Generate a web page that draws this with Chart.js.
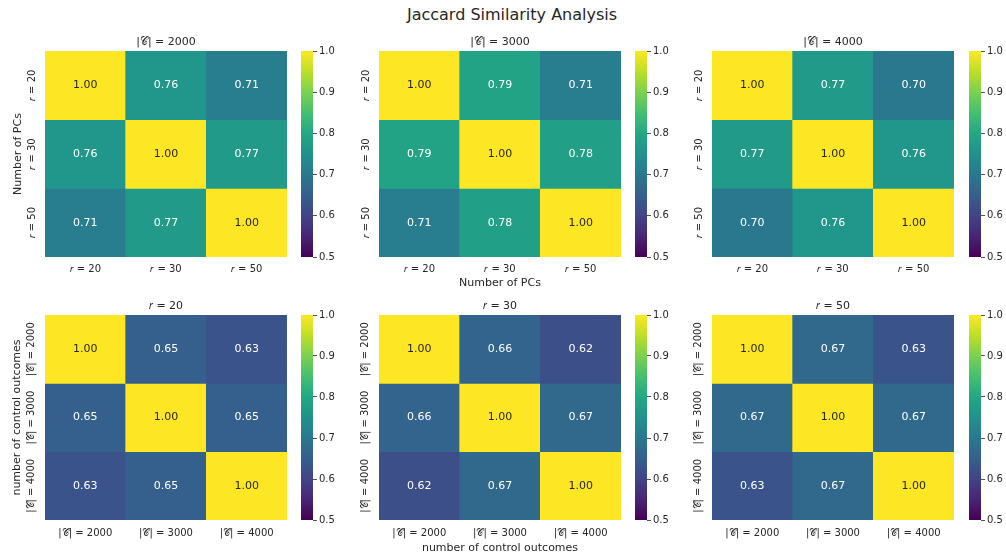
<!DOCTYPE html>
<html><head><meta charset="utf-8">
<script src="https://cdn.jsdelivr.net/npm/chart.js@4.4.0/dist/chart.umd.min.js"></script>
<style>
html,body{margin:0;padding:0;background:#fff;}
body{width:1006px;height:558px;position:relative;overflow:hidden;font-family:'DejaVu Sans',sans-serif;}
canvas{position:absolute;}
#sup{position:absolute;left:0;width:1024px;top:6px;line-height:18px;text-align:center;font-size:16px;color:#262626;}
</style></head><body>
<div id="sup">Jaccard Similarity Analysis</div>
<script>
// ---- data ----
const pcLabels = ['𝑟 = 20', '𝑟 = 30', '𝑟 = 50'];
const cLabels = ['|𝒞| = 2000', '|𝒞| = 3000', '|𝒞| = 4000'];
const topTitles = ['|𝒞| = 2000', '|𝒞| = 3000', '|𝒞| = 4000'];
const bottomTitles = ['𝑟 = 20', '𝑟 = 30', '𝑟 = 50'];
const pcAxisTitle = 'Number of PCs';
const cAxisTitle = 'number of control outcomes';
const simC2000 = [[1.00, 0.76, 0.71], [0.76, 1.00, 0.77], [0.71, 0.77, 1.00]];
const simC3000 = [[1.00, 0.79, 0.71], [0.79, 1.00, 0.78], [0.71, 0.78, 1.00]];
const simC4000 = [[1.00, 0.77, 0.70], [0.77, 1.00, 0.76], [0.70, 0.76, 1.00]];
const simR20 = [[1.00, 0.65, 0.63], [0.65, 1.00, 0.65], [0.63, 0.65, 1.00]];
const simR30 = [[1.00, 0.66, 0.62], [0.66, 1.00, 0.67], [0.62, 0.67, 1.00]];
const simR50 = [[1.00, 0.67, 0.63], [0.67, 1.00, 0.67], [0.63, 0.67, 1.00]];
const colorMin = 0.5, colorMax = 1.0, colorStep = 0.1;

// ---- colormap ----
const VIR = ['#440154','#482475','#414487','#355f8d','#2a788e','#21918c','#22a884','#44bf70','#7ad151','#bddf26','#fde725'];
function hex(h){return [1,3,5].map(k=>parseInt(h.substr(k,2),16));}
function viridis(v){
  let t = (v - colorMin) / (colorMax - colorMin);
  t = Math.max(0, Math.min(1, t));
  const p = t * 10, i = Math.min(9, Math.floor(p)), f = p - i;
  const a = hex(VIR[i]), b = hex(VIR[i+1]);
  const c = a.map((x,k)=>Math.round(x + (b[k]-x)*f));
  return `rgb(${c[0]},${c[1]},${c[2]})`;
}

const TXT = '#262626';
const FONT = '"DejaVu Sans", sans-serif';

const heatLabels = {
  id: 'heatLabels',
  afterDatasetsDraw(chart, args, o) {
    const ctx = chart.ctx;
    const {left, top, bottom} = chart.chartArea;
    ctx.save();
    ctx.textAlign = 'center'; ctx.textBaseline = 'middle';
    ctx.font = '11px ' + FONT;
    chart.data.datasets.forEach((ds, i) => {
      chart.getDatasetMeta(i).data.forEach((el, j) => {
        const v = ds.data[j].v;
        ctx.fillStyle = v > 0.9 ? TXT : '#ffffff';
        ctx.fillText(v.toFixed(2), el.x, (el.y + el.base) / 2);
      });
    });
    ctx.fillStyle = TXT;
    ctx.font = '10px ' + FONT;
    const xs = chart.scales.x, ys = chart.scales.y;
    chart.data.labels.forEach((lab, j) => ctx.fillText(lab, xs.getPixelForValue(j), bottom + o.xTickOff));
    o.yLabels.forEach((lab, i) => {
      ctx.save();
      ctx.translate(left - o.yTickOff, ys.getPixelForValue(i + 0.5));
      ctx.rotate(-Math.PI / 2);
      ctx.fillText(lab, 0, 0);
      ctx.restore();
    });
    ctx.font = '11px ' + FONT;
    if (o.xTitle) ctx.fillText(o.xTitle, (chart.chartArea.left + chart.chartArea.right) / 2, bottom + o.xTitleOff);
    if (o.yTitle) {
      ctx.save();
      ctx.translate(left - o.yTitleOff, (top + bottom) / 2);
      ctx.rotate(-Math.PI / 2);
      ctx.fillText(o.yTitle, 0, 0);
      ctx.restore();
    }
    ctx.restore();
  }
};

function mkCanvas(l, t, w, h) {
  const c = document.createElement('canvas');
  c.width = w; c.height = h;
  c.style.left = l + 'px'; c.style.top = t + 'px';
  c.style.width = w + 'px'; c.style.height = h + 'px';
  document.body.appendChild(c);
  return c;
}

function heatmap(hx, hy, w, h, matrix, xLabels, yLabels, title, xTitle, yTitle, offs) {
  const cv = mkCanvas(hx - 45, hy - 20, w + 45, h + 20 + 40);
  const datasets = matrix.map((row, i) => ({
    data: row.map((v, j) => ({x: xLabels[j], y: 1, v: v})),
    backgroundColor: c => viridis(c.raw.v),
    borderWidth: 0,
    categoryPercentage: 1, barPercentage: 1
  }));
  new Chart(cv, {
    type: 'bar',
    data: {labels: xLabels, datasets},
    options: {
      responsive: false, animation: false, events: [],
      layout: {padding: {left: 45, right: 0, top: 0, bottom: 40}},
      scales: {
        x: {display: false, stacked: true},
        y: {display: false, stacked: true, min: 0, max: 3, reverse: true}
      },
      plugins: {
        legend: {display: false}, tooltip: {enabled: false},
        title: {display: true, text: title, color: TXT, font: {family: FONT, size: 11, weight: 'normal', lineHeight: '14px'}, padding: {top: 4, bottom: 2}},
        heatLabels: {yLabels, xTitle, yTitle, xTickOff: offs[0], xTitleOff: offs[1], yTickOff: offs[2], yTitleOff: offs[3]}
      }
    },
    plugins: [heatLabels]
  });
}

function colorbar(cx, hy, h) {
  const cv = mkCanvas(cx, hy - 8, 12 + 30, h + 16);
  new Chart(cv, {
    type: 'bar',
    data: {labels: [''], datasets: [{
      data: [[colorMin, colorMax]],
      backgroundColor: c => {
        const a = c.chart.chartArea;
        if (!a) return VIR[5];
        const g = c.chart.ctx.createLinearGradient(0, a.bottom, 0, a.top);
        VIR.forEach((col, k) => g.addColorStop(k / 10, col));
        return g;
      },
      borderWidth: 0, categoryPercentage: 1, barPercentage: 1
    }]},
    options: {
      responsive: false, animation: false, events: [],
      layout: {padding: {left: 0, right: 0, top: 8, bottom: 8}},
      scales: {
        x: {display: false},
        y: {position: 'right', min: colorMin, max: colorMax,
            afterFit: s => { s.width = 30; },
            border: {display: false},
            grid: {drawOnChartArea: false, drawTicks: true, tickLength: 4, color: TXT, lineWidth: 0.8},
            ticks: {stepSize: colorStep, color: TXT, padding: 2, font: {family: FONT, size: 10}, callback: v => Number(v).toFixed(1)}}
      },
      plugins: {legend: {display: false}, tooltip: {enabled: false}}
    }
  });
}

const colX = [45, 379, 712];
const cbX = [301, 635, 969];
const topMats = [simC2000, simC3000, simC4000];
const botMats = [simR20, simR30, simR50];
for (let k = 0; k < 3; k++) {
  heatmap(colX[k], 51, 242, 206, topMats[k], pcLabels, pcLabels, topTitles[k],
          k === 1 ? pcAxisTitle : null, k === 0 ? pcAxisTitle : null, [12, 26, 13, 27]);
  colorbar(cbX[k], 51, 206);
  heatmap(colX[k], 315, 242, 205, botMats[k], cLabels, cLabels, bottomTitles[k],
          k === 1 ? cAxisTitle : null, k === 0 ? cAxisTitle : null, [13, 28, 14, 28]);
  colorbar(cbX[k], 315, 205);
}
</script>
</body></html>
